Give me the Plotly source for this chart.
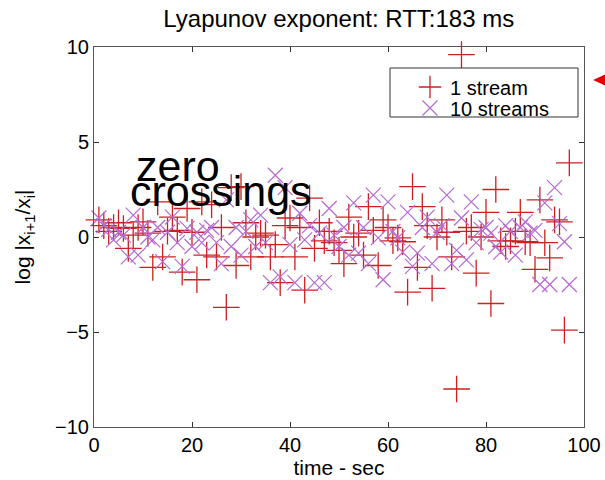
import plotly.graph_objects as go

# Sample times (s) and log divergence ratios for each run
t_one = list(range(1, 98))
y_one = [0.9, 0.6, 0.3, 0.5, 0.75, 0.45, -0.6, 0.1, 0.5, 0.8,
         0.2, -1.6, 1.85, -1.05, 0.3, 1.05, 0.35, -1.85, 1.5, 0.25,
         -2.25, 1.85, -0.95, 1.7, -1.05, 0.5, -3.7, 2.6, -1.5, 2.65,
         0.75, -1.05, 0.0, 0.2, 0.1, -1.05, -0.4, -2.4, 0.6, 1.0,
         -1.05, 0.5, -2.8, 2.05, -0.6, 0.75, -0.2, 0.3, -0.3, -0.7,
         -1.4, 1.05, 0.0, 0.2, -0.95, 1.6, 0.35, -1.5, 0.9, 0.5,
         -0.2, -0.05, -0.25, -2.9, 2.65, -1.6, 1.6, 0.6, -2.7, 0.0,
         0.9, 0.25, -1.05, -8.0, 9.6, 0.3, 0.5, -1.9, 0.0, 1.3,
         -3.5, 2.5, -0.2, -0.5, -0.2, 0.3, 1.3, -0.25, -0.3, -1.7,
         1.95, -0.3, -1.1, 0.9, 0.8, -4.9, 3.9]

t_ten = list(range(1, 98))
y_ten = [1.0, 0.6, 0.4, -0.15, 0.25, 0.1, -1.05, 1.15, -0.95, 0.5,
         0.0, -0.15, 0.5, -1.3, 0.25, 1.05, -0.3, -1.55, 0.45, -0.5,
         0.25, -0.3, 0.35, 0.5, -0.3, -1.4, 1.95, -0.5, 0.5, -0.95,
         0.3, 0.9, -0.5, 1.15, -0.3, -2.4, 3.25, -2.1, 2.6, -0.4,
         -2.4, 1.25, -0.15, 0.6, -2.4, 0.2, -2.4, 1.5, 0.1, -0.5,
         0.5, -0.95, 1.8, -0.85, 0.5, -1.4, 2.2, -0.05, -2.25, 1.85,
         0.3, -0.05, -0.8, 1.3, -1.55, -0.85, 0.5, 1.05, -1.4, 0.25,
         0.6, 2.2, -1.4, -0.7, 1.0, -1.2, 1.85, -0.3, 0.4, 0.5,
         0.2, -0.5, -0.8, 0.6, 0.3, -0.95, 0.5, 0.8, 0.2, 0.35,
         -2.5, 1.8, -2.5, 2.6, 0.7, -0.25, -2.5]

x_ticks = [0, 20, 40, 60, 80, 100]
y_ticks = [-10, -5, 0, 5, 10]

RED = "#cc2020"
PURPLE = "#b56ad2"
FONT = "Liberation Sans, Arial, sans-serif"

W, H = 605, 480
ML, MR, MT, MB = 94, 21, 47, 53
PW, PH = W - ML - MR, H - MT - MB


def px(x):
    """pixel column -> paper x"""
    return (x - ML) / PW


def py(y):
    """pixel row -> paper y"""
    return (H - MB - y) / PH


fig = go.Figure()
fig.add_trace(go.Scatter(
    x=t_one, y=y_one, mode="markers", name="1 stream", cliponaxis=False,
    legend="legend",
    marker=dict(symbol="cross-thin", size=19, color=RED,
                line=dict(color=RED, width=1.3)),
))
fig.add_trace(go.Scatter(
    x=t_ten, y=y_ten, mode="markers", name="10 streams", cliponaxis=False,
    legend="legend2",
    marker=dict(symbol="x-thin", size=15, color=PURPLE,
                line=dict(color=PURPLE, width=1.2)),
))

axis_common = dict(
    showline=True, linecolor="#555555", linewidth=1, mirror="allticks",
    ticks="inside", ticklen=5, tickcolor="#333333", showgrid=False,
    zeroline=False, automargin=False,
    tickfont=dict(family=FONT, size=20, color="black"),
)

legend_common = dict(
    xanchor="left", yanchor="middle", bgcolor="rgba(0,0,0,0)", borderwidth=0,
    font=dict(family=FONT, size=20, color="black"), itemwidth=30,
)

fig.update_layout(
    width=W, height=H,
    margin=dict(l=ML, r=MR, t=MT, b=MB),
    paper_bgcolor="white", plot_bgcolor="white",
    font=dict(family=FONT, color="black"),
    showlegend=True,
    title=dict(text="Lyapunov exponent: RTT:183 ms", x=0.56, xanchor="center",
               y=0.962, yanchor="middle",
               font=dict(family=FONT, size=24, color="black")),
    xaxis=dict(range=[0, 100], tickvals=x_ticks, **axis_common,
               title=dict(text="time - sec", standoff=2,
                          font=dict(family=FONT, size=21, color="black"))),
    yaxis=dict(range=[-10, 10], tickvals=y_ticks, **axis_common,
               title=dict(text="log |x<sub>i+1</sub>/x<sub>i</sub>|", standoff=18,
                          font=dict(family=FONT, size=21, color="black"))),
    legend=dict(x=px(410), y=py(87), **legend_common),
    legend2=dict(x=px(410), y=py(108), **legend_common),
    annotations=[
        dict(text="zero", xref="paper", yref="paper",
             x=px(134), y=py(140), xanchor="left",
             yanchor="top", showarrow=False,
             font=dict(family=FONT, size=43, color="black")),
        dict(text="crossings", xref="paper", yref="paper",
             x=px(128), y=py(165), xanchor="left",
             yanchor="top", showarrow=False,
             font=dict(family=FONT, size=43, color="black")),
    ],
    shapes=[
        dict(type="rect", xref="paper", yref="paper",
             x0=px(390), x1=px(578), y0=py(117), y1=py(68), layer="above",
             fillcolor="rgba(0,0,0,0)", line=dict(color="#333333", width=1)),
        dict(type="path", xref="paper", yref="paper",
             path=f"M {px(593)} {py(80)} L {px(606)} {py(74)} "
                  f"L {px(606)} {py(86)} Z",
             fillcolor="#e00000", line=dict(color="#e00000", width=0)),
    ],
)

fig.write_html("out.html")
